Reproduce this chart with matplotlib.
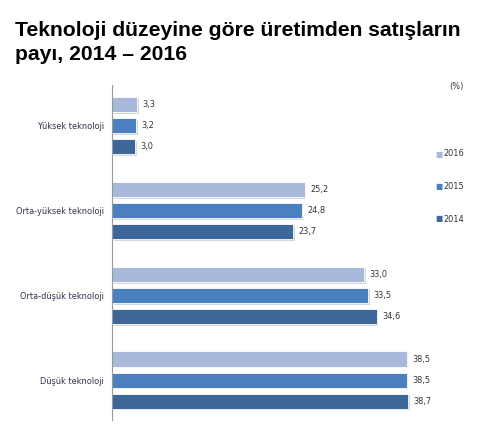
import matplotlib
matplotlib.use("Agg")
import matplotlib.pyplot as plt
import matplotlib.patheffects as pe
from matplotlib import font_manager
from matplotlib.font_manager import FontProperties
import numpy as np

categories = ["Yüksek teknoloji", "Orta-yüksek teknoloji", "Orta-düşük teknoloji", "Düşük teknoloji"]
years = ["2016", "2015", "2014"]
values = {
    "2016": [3.3, 25.2, 33.0, 38.5],
    "2015": [3.2, 24.8, 33.5, 38.5],
    "2014": [3.0, 23.7, 34.6, 38.7],
}
colors = {"2016": "#a9b9db", "2015": "#4a80c0", "2014": "#3d6799"}

# look for a narrow regular font for the small labels
narrow_file = None
for f in font_manager.fontManager.ttflist:
    base = f.fname.lower()
    if ("condensed" in base or "narrow" in base) and "bold" not in base and "oblique" not in base \
            and "italic" not in base and "light" not in base and "mono" not in base:
        narrow_file = f.fname
        if "dejavusanscondensed.ttf" in base:
            break
if narrow_file:
    lab = FontProperties(fname=narrow_file, size=6.6)
else:
    lab = FontProperties(family="DejaVu Sans", size=6.0)

fig = plt.figure(figsize=(4.93, 4.41), dpi=100)
ax = fig.add_axes([112 / 493, 21 / 441, 306 / 493, 335 / 441])

y = np.arange(len(categories))
offsets = {"2016": -0.248, "2015": 0.0, "2014": 0.248}
shadow = [pe.SimplePatchShadow(offset=(1.2, -1.2), shadow_rgbFace="#999999", alpha=0.4), pe.Normal()]

for yr in years:
    bars = ax.barh(y + offsets[yr], values[yr], height=0.18, color=colors[yr],
                   edgecolor="white", linewidth=0.6, label=yr)
    for b in bars:
        b.set_path_effects(shadow)
    for b, v in zip(bars, values[yr]):
        ax.text(b.get_width() + 0.7, b.get_y() + b.get_height() / 2,
                f"{v:.1f}".replace(".", ","), va="center", ha="left",
                fontproperties=lab, color="#333333")

ax.set_xlim(0, 40)
ax.set_ylim(3.47, -0.48)
ax.set_yticks(y)
ax.set_yticklabels(categories, fontproperties=lab, color="#3a3048")
ax.tick_params(axis="y", length=0, pad=6)
ax.set_xticks([])
for s in ["top", "right", "bottom"]:
    ax.spines[s].set_visible(False)
ax.spines["left"].set_color("#999999")
ax.spines["left"].set_linewidth(0.8)

fig.text(15 / 493, 1 - 21 / 441, "Teknoloji düzeyine göre üretimden satışların\npayı, 2014 – 2016",
         family="Liberation Sans", fontweight="bold", fontsize=15.2, va="top", ha="left",
         linespacing=1.3)
fig.text(456 / 493, 1 - 86 / 441, "(%)", fontproperties=lab, color="#333333", ha="center", va="center")

leg_y = [154, 187, 219]
for yr, yy in zip(years, leg_y):
    fig.text(439 / 493, 1 - yy / 441, "■", fontsize=5.5, color=colors[yr],
             family="DejaVu Sans", ha="center", va="center")
    fig.text(443 / 493, 1 - yy / 441, yr, fontproperties=lab, color="#333333", ha="left", va="center")

fig.savefig("out.png", dpi=100)
